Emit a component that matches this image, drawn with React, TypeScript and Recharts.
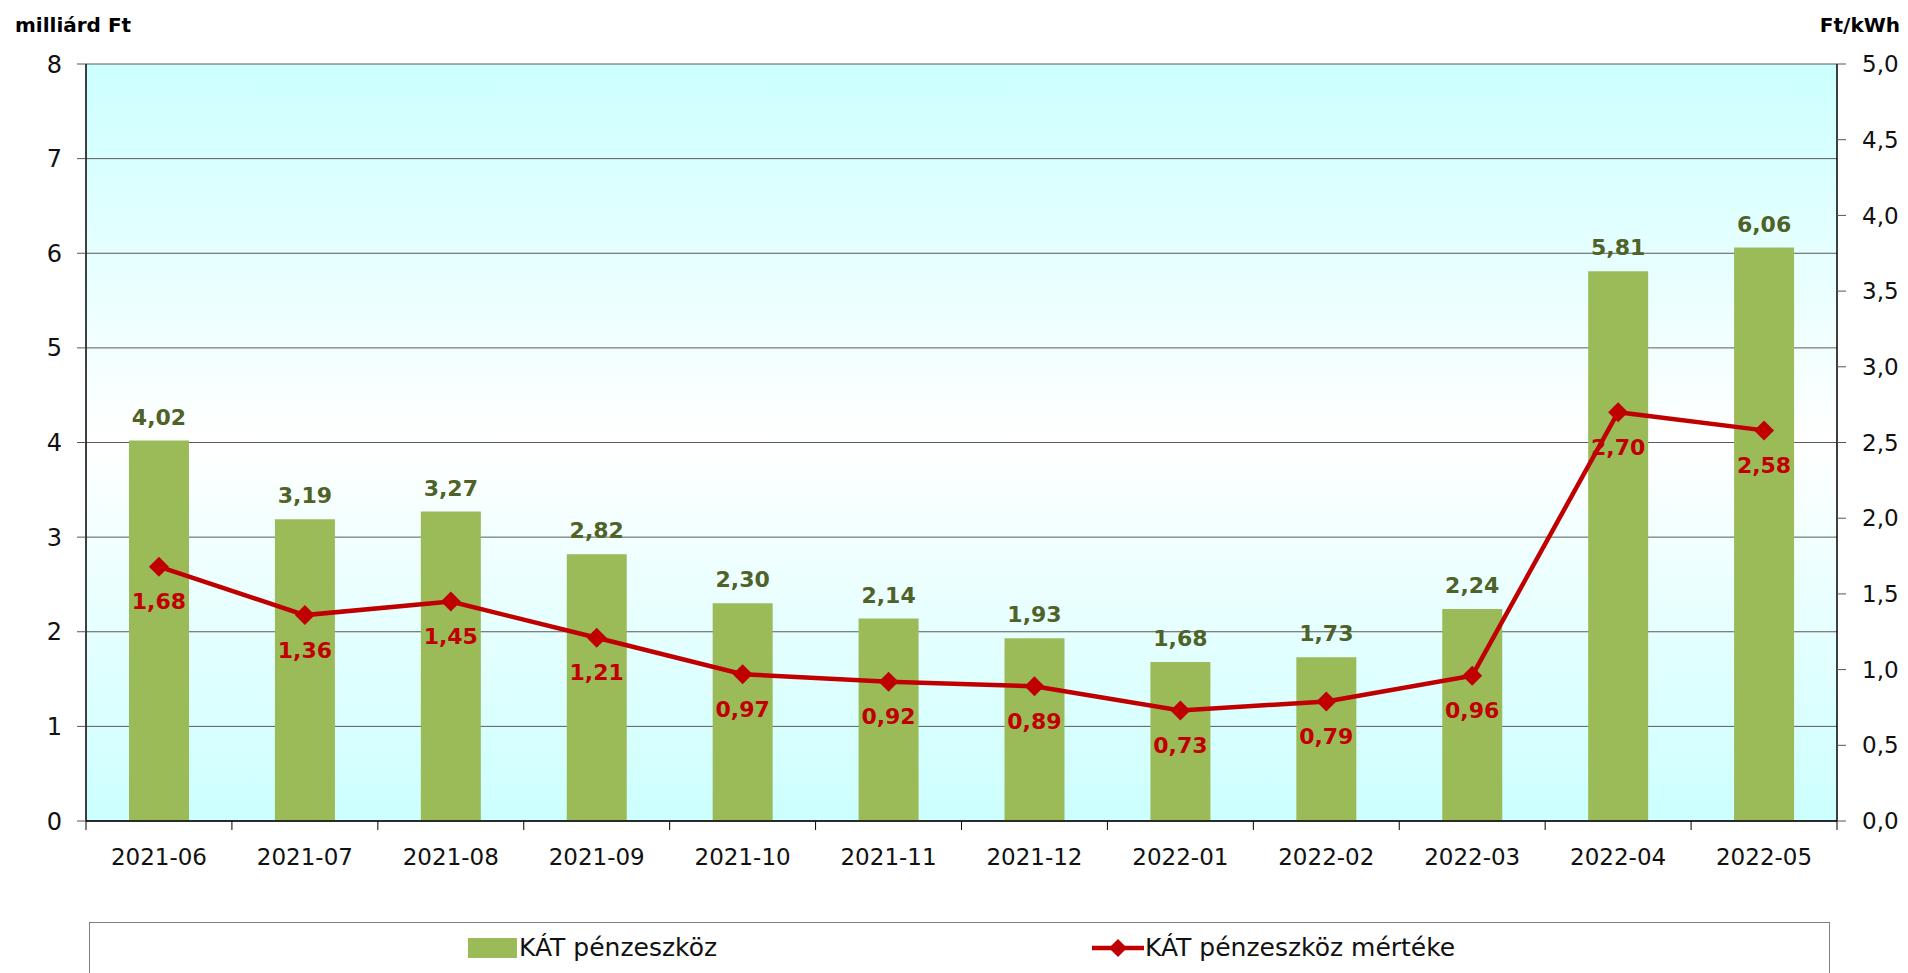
import React from "react";
import {
  ComposedChart, Bar, Line, XAxis, YAxis, CartesianGrid, LabelList,
} from "recharts";

const months = [
  "2021-06", "2021-07", "2021-08", "2021-09", "2021-10", "2021-11",
  "2021-12", "2022-01", "2022-02", "2022-03", "2022-04", "2022-05",
];
// KÁT pénzeszköz (milliárd Ft)
const fundValues = [4.02, 3.19, 3.27, 2.82, 2.3, 2.14, 1.93, 1.68, 1.73, 2.24, 5.81, 6.06];
// KÁT pénzeszköz mértéke (Ft/kWh)
const rateValues = [1.68, 1.36, 1.45, 1.21, 0.97, 0.92, 0.89, 0.73, 0.79, 0.96, 2.7, 2.58];
const leftTicks = [0, 1, 2, 3, 4, 5, 6, 7, 8];
const rightTicks = [0, 0.5, 1, 1.5, 2, 2.5, 3, 3.5, 4, 4.5, 5];

const data = months.map((m, i) => ({ month: m, fund: fundValues[i], rate: rateValues[i] }));

const W = 1908;
const H = 973;
const LEFT_W = 86;
const RIGHT_W = 71;
const FONT = "'DejaVu Sans', sans-serif";
const band = (W - LEFT_W - RIGHT_W) / months.length;

const comma = (d: number) => (v: any) => Number(v).toFixed(d).replace(".", ",");

function MonthTick(props: any) {
  const { x, y, payload, index } = props;
  const top = y - 9;
  return (
    <g>
      <line x1={x - band / 2} x2={x - band / 2} y1={top} y2={top + 9} stroke="#000" />
      {index === months.length - 1 && (
        <line x1={x + band / 2} x2={x + band / 2} y1={top} y2={top + 9} stroke="#000" />
      )}
      <text x={x} y={y + 35} textAnchor="middle" fontSize={23} fill="#111" fontFamily={FONT}>
        {payload.value}
      </text>
    </g>
  );
}

function Diamond(props: any) {
  const { cx, cy, index } = props;
  const r = 10;
  return (
    <polygon
      key={"d" + index}
      points={`${cx},${cy - r} ${cx + r},${cy} ${cx},${cy + r} ${cx - r},${cy}`}
      fill="#C00000"
    />
  );
}

export default function App() {
  return (
    <div style={{ position: "relative", width: W, height: H, overflow: "hidden", fontFamily: FONT }}>
      <style>{"body{margin:0}"}</style>
      <div style={{ position: "absolute", left: 15, top: 14, fontSize: 20, fontWeight: "bold", lineHeight: "22px" }}>
        milliárd Ft
      </div>
      <div style={{ position: "absolute", right: 8, top: 14, fontSize: 20, fontWeight: "bold", lineHeight: "22px" }}>
        Ft/kWh
      </div>
      <ComposedChart
        width={W}
        height={H}
        data={data}
        margin={{ top: 64, right: 0, bottom: 152 - 60, left: 0 }}
        barCategoryGap={0}
      >
        <defs>
          <linearGradient id="bgGrad" x1="0" y1="0" x2="0" y2="1">
            <stop offset="0%" stopColor="#CCFFFF" />
            <stop offset="50%" stopColor="#FFFFFF" />
            <stop offset="100%" stopColor="#CCFFFF" />
          </linearGradient>
        </defs>
        <CartesianGrid
          yAxisId="left"
          vertical={false}
          stroke="#5a5a5a"
          fill="url(#bgGrad)"
          fillOpacity={1}
        />
        <XAxis
          dataKey="month"
          height={60}
          axisLine={{ stroke: "#000", strokeWidth: 1.5 }}
          tickLine={false}
          tickSize={9}
          tickMargin={0}
          tick={<MonthTick />}
          interval={0}
        />
        <YAxis
          yAxisId="left"
          width={LEFT_W}
          domain={[0, 8]}
          ticks={leftTicks}
          interval={0}
          axisLine={{ stroke: "#000", strokeWidth: 1.5 }}
          tickLine={{ stroke: "#555" }}
          tickSize={9}
          tickMargin={15}
          tick={{ fontSize: 24, fill: "#111", fontFamily: FONT }}
        />
        <YAxis
          yAxisId="right"
          orientation="right"
          width={RIGHT_W}
          domain={[0, 5]}
          ticks={rightTicks}
          interval={0}
          tickFormatter={comma(1)}
          axisLine={{ stroke: "#000", strokeWidth: 1.5 }}
          tickLine={{ stroke: "#555" }}
          tickSize={9}
          tickMargin={16}
          tick={{ fontSize: 23, fill: "#111", fontFamily: FONT, textAnchor: "start" }}
        />
        <Bar yAxisId="left" dataKey="fund" name="KÁT pénzeszköz" fill="#9BBB59" barSize={60} isAnimationActive={false}>
          <LabelList
            dataKey="fund"
            position="top"
            offset={16}
            formatter={comma(2)}
            fill="#4F6228"
            fontSize={22}
            fontWeight="bold"
            fontFamily={FONT}
          />
        </Bar>
        <Line
          yAxisId="right"
          dataKey="rate"
          name="KÁT pénzeszköz mértéke"
          type="linear"
          stroke="#C00000"
          strokeWidth={4.5}
          dot={<Diamond />}
          activeDot={false}
          isAnimationActive={false}
        >
          <LabelList
            dataKey="rate"
            position="bottom"
            offset={27}
            formatter={comma(2)}
            fill="#C00000"
            fontSize={22}
            fontWeight="bold"
            fontFamily={FONT}
          />
        </Line>
      </ComposedChart>
      <div
        style={{
          position: "absolute", left: 89, top: 922, width: 1741, height: 80,
          border: "1px solid #808080", boxSizing: "border-box", background: "#fff",
        }}
      />
      <div style={{ position: "absolute", left: 468, top: 938, width: 49, height: 20, background: "#9BBB59" }} />
      <div style={{ position: "absolute", left: 519, top: 933, fontSize: 25, lineHeight: "30px", color: "#111" }}>
        KÁT pénzeszköz
      </div>
      <svg style={{ position: "absolute", left: 1092, top: 936 }} width={52} height={24}>
        <line x1={0} x2={52} y1={12} y2={12} stroke="#C00000" strokeWidth={4.5} />
        <polygon points="26,3 35,12 26,21 17,12" fill="#C00000" />
      </svg>
      <div style={{ position: "absolute", left: 1145, top: 933, fontSize: 25, lineHeight: "30px", color: "#111" }}>
        KÁT pénzeszköz mértéke
      </div>
    </div>
  );
}
